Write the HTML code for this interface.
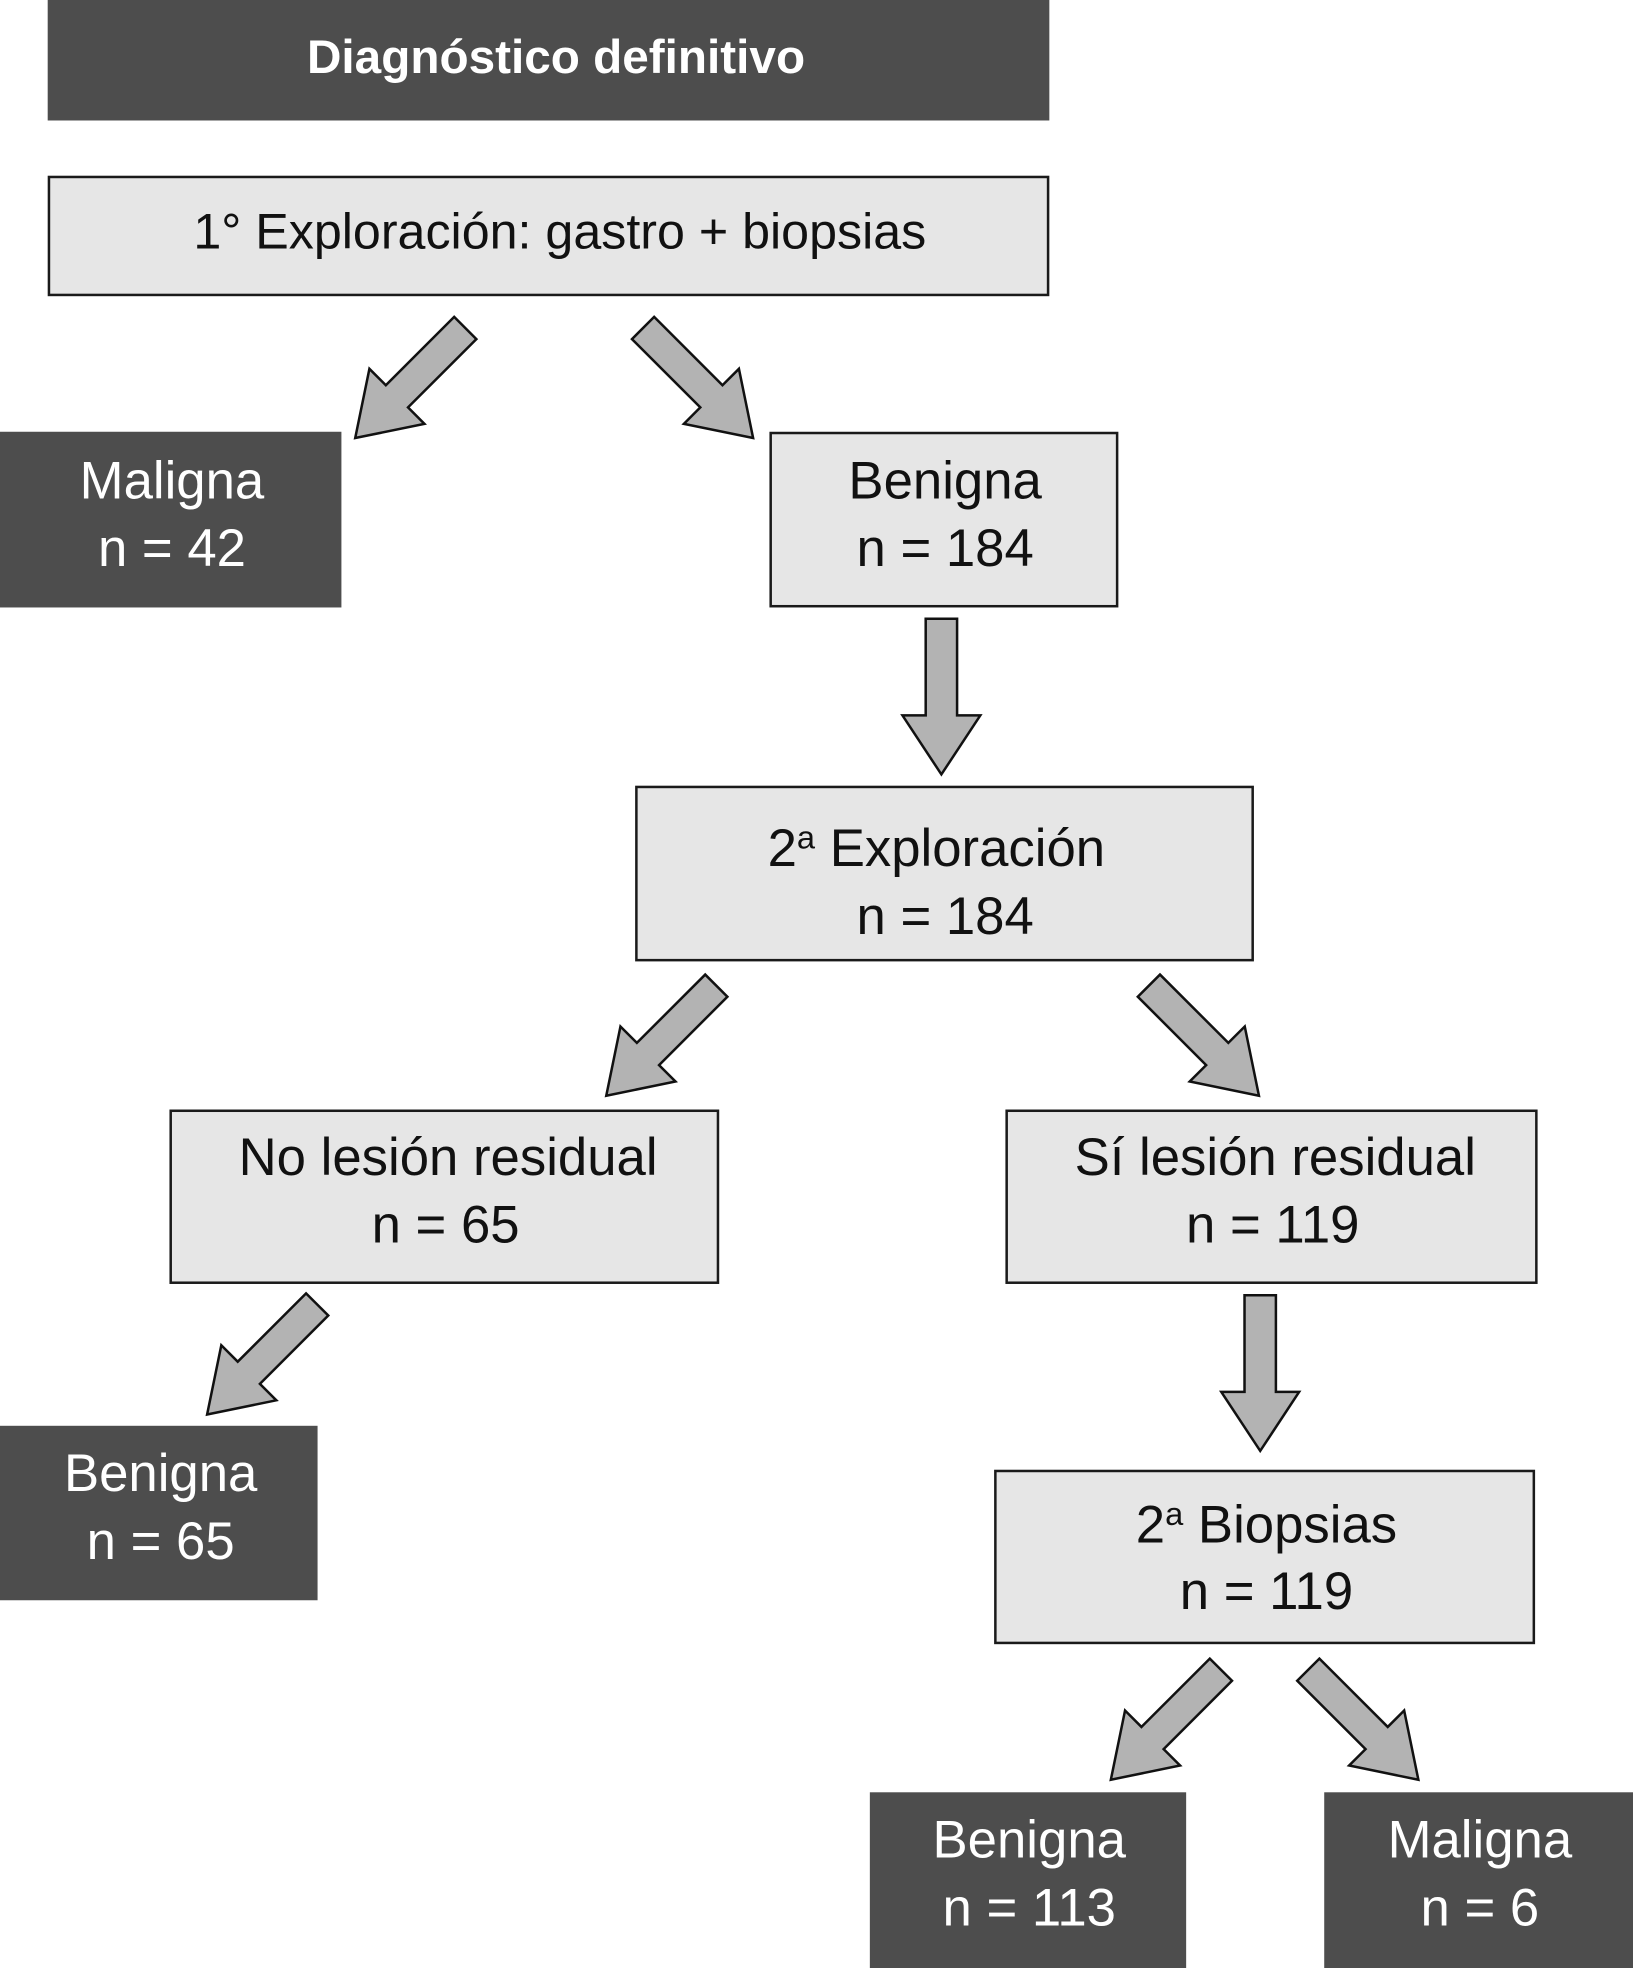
<!DOCTYPE html>
<html><head><meta charset="utf-8"><style>
html,body{margin:0;padding:0;background:#fff;}
svg{display:block;}
text{font-family:"Liberation Sans",Arial,sans-serif;text-anchor:middle;}
.d{fill:#4d4d4d;}
.l{fill:#e6e6e6;stroke:#1a1a1a;stroke-width:2;}
.w{fill:#fff;font-size:42px;}
.b{fill:#111;font-size:42px;}
.a{fill:#b3b3b3;stroke:#111;stroke-width:2;stroke-linejoin:miter;}
</style></head><body>
<svg width="1633" height="1968" viewBox="0 0 1301 1568" preserveAspectRatio="none">
<defs><path id="ar" d="M-12.5,-124 L12.5,-124 L12.5,-47 L31,-47 L0,0 L-31,-47 L-12.5,-47 Z"/></defs>
<rect class="d" x="38" y="0" width="798" height="96"/>
<text x="443" y="58" style="fill:#fff;font-size:38px;font-weight:bold">Diagnóstico definitivo</text>
<rect class="l" x="39" y="141" width="796" height="94"/>
<text class="b" x="446" y="198" style="font-size:40px">1° Exploración: gastro + biopsias</text>
<rect class="d" x="0" y="344" width="272" height="140"/>
<text class="w" x="137" y="397">Maligna</text><text class="w" x="137" y="451">n = 42</text>
<rect class="l" x="614" y="345" width="276" height="138"/>
<text class="b" x="753" y="397">Benigna</text><text class="b" x="753" y="451">n = 184</text>
<rect class="l" x="507" y="627" width="491" height="138"/>
<text class="b" x="746" y="690">2<tspan dy="-14" style="font-size:26px">a</tspan><tspan dy="14"> Exploración</tspan></text><text class="b" x="753" y="744">n = 184</text>
<rect class="l" x="136" y="885" width="436" height="137"/>
<text class="b" x="357" y="936">No lesión residual</text><text class="b" x="355" y="990">n = 65</text>
<rect class="l" x="802" y="885" width="422" height="137"/>
<text class="b" x="1016" y="936">Sí lesión residual</text><text class="b" x="1014" y="990">n = 119</text>
<rect class="d" x="0" y="1136" width="253" height="139"/>
<text class="w" x="128" y="1188">Benigna</text><text class="w" x="128" y="1242">n = 65</text>
<rect class="l" x="793" y="1172" width="429" height="137"/>
<text class="b" x="1009" y="1229">2<tspan dy="-14" style="font-size:26px">a</tspan><tspan dy="14"> Biopsias</tspan></text><text class="b" x="1009" y="1282">n = 119</text>
<rect class="d" x="693" y="1428" width="252" height="140"/>
<text class="w" x="820" y="1480">Benigna</text><text class="w" x="820" y="1534">n = 113</text>
<rect class="d" x="1055" y="1428" width="246" height="140"/>
<text class="w" x="1179" y="1480">Maligna</text><text class="w" x="1179" y="1534">n = 6</text>
<use href="#ar" class="a" transform="translate(283,349) rotate(45)"/>
<use href="#ar" class="a" transform="translate(600,349) rotate(-45)"/>
<use href="#ar" class="a" transform="translate(750,617)"/>
<use href="#ar" class="a" transform="translate(483,873) rotate(45)"/>
<use href="#ar" class="a" transform="translate(1003,873) rotate(-45)"/>
<use href="#ar" class="a" transform="translate(165,1127) rotate(45)"/>
<use href="#ar" class="a" transform="translate(1004,1156)"/>
<use href="#ar" class="a" transform="translate(885,1418) rotate(45)"/>
<use href="#ar" class="a" transform="translate(1130,1418) rotate(-45)"/>
</svg>
</body></html>
